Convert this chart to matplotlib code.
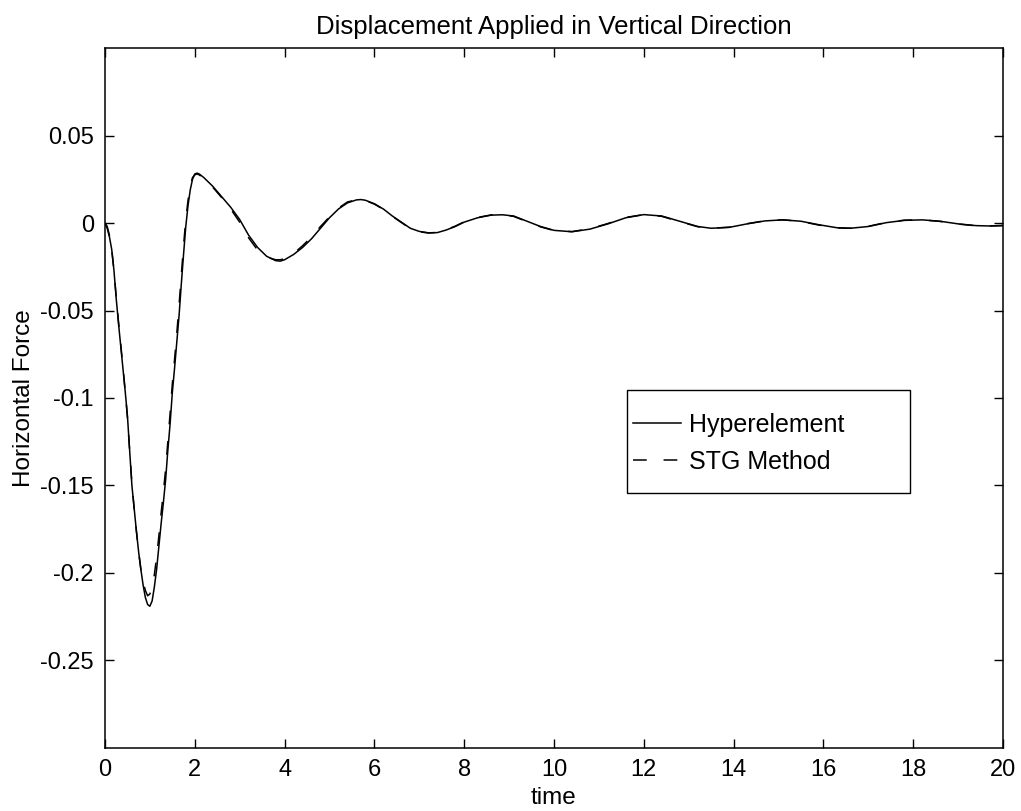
import matplotlib
matplotlib.use("Agg")
import matplotlib.pyplot as plt
from matplotlib.patches import Rectangle

plt.rcParams['font.family'] = ['Liberation Sans', 'DejaVu Sans']

# =========================
# DATA
# =========================
t_hyper = [0, 0.05, 0.1, 0.15, 0.2, 0.25, 0.3, 0.35, 0.4, 0.45, 0.5, 0.55, 0.6, 0.65,
           0.7, 0.75, 0.8, 0.85, 0.9, 0.95, 1.0, 1.05, 1.1, 1.15, 1.2, 1.25, 1.3, 1.35,
           1.4, 1.45, 1.5, 1.55, 1.6, 1.65, 1.7, 1.75, 1.8, 1.85, 1.9, 1.95, 2.0, 2.05,
           2.1, 2.2, 2.4, 2.6, 2.8, 3.0, 3.2, 3.4, 3.6, 3.8, 3.9, 4.0, 4.2, 4.4, 4.6,
           4.8, 5.0, 5.2, 5.4, 5.6, 5.7, 5.8, 6.0, 6.2, 6.4, 6.6, 6.8, 7.0, 7.2, 7.4,
           7.6, 7.8, 8.0, 8.3, 8.6, 8.85, 9.1, 9.4, 9.7, 10.0, 10.4, 10.8, 11.2, 11.6,
           12.0, 12.4, 12.8, 13.2, 13.5, 13.9, 14.3, 14.7, 15.1, 15.5, 15.9, 16.3,
           16.6, 17.0, 17.4, 17.8, 18.2, 18.6, 19.0, 19.4, 19.7, 20.0]
f_hyper = [0, -0.003, -0.008, -0.015, -0.027, -0.043, -0.057, -0.07, -0.083, -0.096,
           -0.11, -0.13, -0.15, -0.163, -0.176, -0.188, -0.198, -0.207, -0.214, -0.218,
           -0.219, -0.216, -0.208, -0.198, -0.185, -0.172, -0.16, -0.147, -0.13, -0.115,
           -0.097, -0.083, -0.068, -0.053, -0.035, -0.018, -0.002, 0.01, 0.019, 0.025,
           0.028, 0.0285, 0.028, 0.026, 0.021, 0.015, 0.009, 0.002, -0.007, -0.014,
           -0.019, -0.0215, -0.0218, -0.021, -0.018, -0.014, -0.009, -0.003, 0.003,
           0.008, 0.0115, 0.0132, 0.0134, 0.013, 0.011, 0.008, 0.004, 0.0005, -0.003,
           -0.0048, -0.0056, -0.0055, -0.004, -0.002, 0.0005, 0.003, 0.0045, 0.0047,
           0.004, 0.001, -0.002, -0.0042, -0.005, -0.0035, -0.0005, 0.003, 0.0048,
           0.004, 0.001, -0.002, -0.003, -0.0025, -0.0005, 0.0012, 0.0018, 0.001,
           -0.001, -0.0027, -0.003, -0.002, 0.0002, 0.0015, 0.0018, 0.001, -0.0005,
           -0.0015, -0.0017, -0.0015]

t_stg = t_hyper
f_stg = [0, -0.002, -0.007, -0.015, -0.027, -0.042, -0.056, -0.069, -0.082, -0.096,
         -0.111, -0.13, -0.149, -0.163, -0.176, -0.188, -0.198, -0.205, -0.21, -0.213,
         -0.212, -0.208, -0.201, -0.191, -0.179, -0.166, -0.154, -0.141, -0.125, -0.109,
         -0.092, -0.078, -0.063, -0.047, -0.03, -0.013, 0.002, 0.013, 0.021, 0.026,
         0.0275, 0.028, 0.0275, 0.0255, 0.0205, 0.0145, 0.008, 0.0005, -0.0085, -0.0155,
         -0.0195, -0.021, -0.021, -0.0205, -0.0175, -0.013, -0.008, -0.002, 0.0035,
         0.0085, 0.012, 0.0133, 0.0133, 0.0128, 0.0108, 0.0078, 0.0038, 0.0003, -0.0032,
         -0.005, -0.0057, -0.0054, -0.0038, -0.0018, 0.0007, 0.0032, 0.0046, 0.0046,
         0.0038, 0.0008, -0.0022, -0.0043, -0.0049, -0.0033, -0.0003, 0.0032, 0.0048,
         0.0038, 0.0008, -0.0021, -0.003, -0.0024, -0.0004, 0.0013, 0.0018, 0.0009,
         -0.0012, -0.0028, -0.003, -0.0019, 0.0003, 0.0016, 0.0018, 0.0009, -0.0006,
         -0.0016, -0.0017, -0.0014]

xticks = [0, 2, 4, 6, 8, 10, 12, 14, 16, 18, 20]
yticks = [-0.25, -0.2, -0.15, -0.1, -0.05, 0, 0.05]
ytick_labels = ['-0.25', '-0.2', '-0.15', '-0.1', '-0.05', '0', '0.05']

# =========================
# PLOT
# =========================
fig = plt.figure(figsize=(10.21, 8.11), dpi=100)
ax = fig.add_axes([0.1028, 0.0777, 0.8796, 0.8631])

ax.plot(t_hyper, f_hyper, '-', color='black', lw=1.1, label='Hyperelement')
ax.plot(t_stg, f_stg, '--', color='black', lw=1.1, dashes=(9, 11), label='STG Method')

ax.set_xlim(0, 20)
ax.set_ylim(-0.3, 0.1)
ax.set_xticks(xticks)
ax.set_yticks(yticks)
ax.set_yticklabels(ytick_labels)
ax.tick_params(direction='in', length=6.5, width=1, top=True, right=True,
               labelsize=17, pad=8)
for spine in ax.spines.values():
    spine.set_linewidth(1.1)

ax.set_xlabel('time', fontsize=17.5, labelpad=4)
ax.set_ylabel('Horizontal Force', fontsize=17.5, labelpad=4)
ax.set_title('Displacement Applied in Vertical Direction', fontsize=18.5, pad=10)

# legend box drawn as its own frame so the padding matches the original
ax.add_patch(Rectangle((0.581, 0.364), 0.315, 0.147, transform=ax.transAxes,
                       facecolor='white', edgecolor='black', lw=1.0, zorder=4))
leg = ax.legend(loc='center left', bbox_to_anchor=(0.588, 0.435), frameon=False,
                fontsize=18, borderpad=0, borderaxespad=0, handlelength=1.9,
                labelspacing=0.5, handletextpad=0.35)
leg.set_zorder(5)

fig.savefig('out.png', dpi=100)
